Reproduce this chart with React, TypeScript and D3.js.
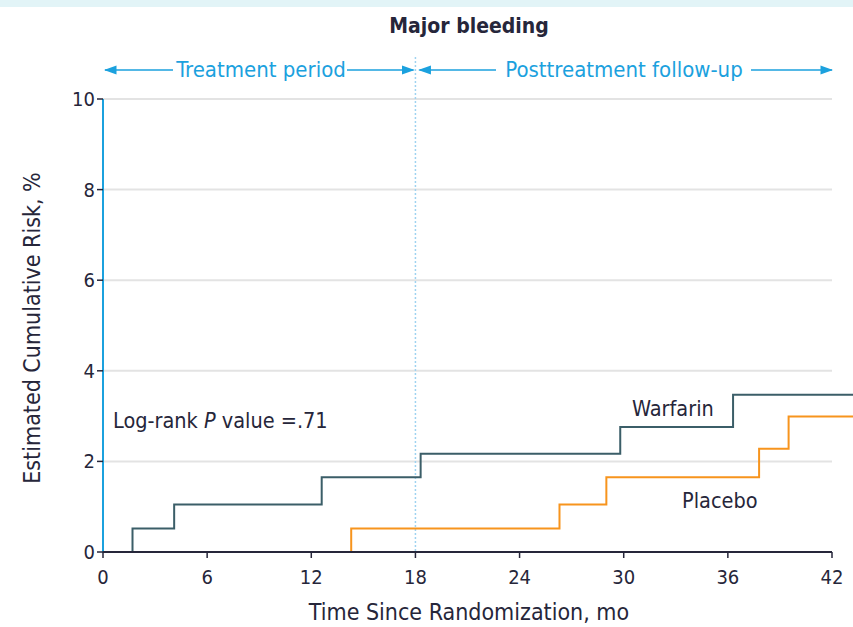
import React from "react";
import { scaleLinear, line, curveStepAfter } from "d3";

// Kaplan-Meier style step data (month, cumulative risk %)
const warfarinMonths = [0, 1.7, 4.1, 12.6, 18.3, 29.8, 36.3, 43.5];
const warfarinRisk = [0, 0.52, 1.05, 1.65, 2.17, 2.76, 3.47, 3.47];
const placeboMonths = [0, 14.3, 26.3, 29.0, 37.8, 39.5, 43.5];
const placeboRisk = [0, 0.52, 1.05, 1.65, 2.28, 2.99, 2.99];

const xTicks = [0, 6, 12, 18, 24, 30, 36, 42];
const yTicks = [0, 2, 4, 6, 8, 10];

const FONT = "'DejaVu Sans Condensed', 'Liberation Sans Narrow', sans-serif";
const BLUE = "#1ba1de";
const DARK = "#26263a";

function App() {
  const width = 853;
  const height = 627;
  const margin = { left: 103, right: 21, top: 99, bottom: 75 };

  const x = scaleLinear().domain([0, 42]).range([margin.left, width - margin.right]);
  const y = scaleLinear().domain([0, 10]).range([height - margin.bottom, margin.top]);

  const stepLine = line<[number, number]>()
    .x((d) => x(d[0]))
    .y((d) => y(d[1]))
    .curve(curveStepAfter);

  const warfarin = warfarinMonths.map((m, i) => [m, warfarinRisk[i]] as [number, number]);
  const placebo = placeboMonths.map((m, i) => [m, placeboRisk[i]] as [number, number]);

  const x0 = x(0);
  const x42 = x(42);
  const y0 = y(0);
  const xSplit = x(18);
  const arrowY = 70;

  return (
    <svg
      width={width}
      height={height}
      style={{ position: "absolute", left: 0, top: 0, background: "#fff" }}
      fontFamily={FONT}
    >
      <defs>
        <marker id="arr" viewBox="0 0 10 10" refX="9" refY="5" markerWidth="8" markerHeight="8" orient="auto-start-reverse">
          <path d="M0,1.5 L10,5 L0,8.5 Z" fill={BLUE} />
        </marker>
      </defs>
      <rect x={0} y={0} width={width} height={7} fill="#e2f4f7" />

      <text x={469} y={33} textAnchor="middle" fontSize={21} fontWeight="bold" fill={DARK}>
        Major bleeding
      </text>

      {/* period arrows */}
      <g stroke={BLUE} strokeWidth={1.6}>
        <line x1={x0 + 2} x2={173} y1={arrowY} y2={arrowY} markerStart="url(#arr)" />
        <line x1={347} x2={xSplit - 2} y1={arrowY} y2={arrowY} markerEnd="url(#arr)" />
        <line x1={xSplit + 4} x2={496} y1={arrowY} y2={arrowY} markerStart="url(#arr)" />
        <line x1={751} x2={x42} y1={arrowY} y2={arrowY} markerEnd="url(#arr)" />
      </g>
      <text x={261} y={arrowY + 7} textAnchor="middle" fontSize={22} fill={BLUE}>
        Treatment period
      </text>
      <text x={624} y={arrowY + 7} textAnchor="middle" fontSize={22} fill={BLUE}>
        Posttreatment follow-up
      </text>

      {/* gridlines */}
      {yTicks.filter((t) => t > 0).map((t) => (
        <line key={t} x1={x0} x2={x42} y1={y(t)} y2={y(t)} stroke="#e3e3e3" strokeWidth={2} />
      ))}

      {/* dotted split line */}
      <line x1={xSplit} x2={xSplit} y1={57} y2={y0} stroke="#9fd3f0" strokeWidth={1.5} strokeDasharray="2,2" />

      {/* curves */}
      <path d={stepLine(placebo) ?? ""} fill="none" stroke="#f7941d" strokeWidth={2} />
      <path d={stepLine(warfarin) ?? ""} fill="none" stroke="#3b5e68" strokeWidth={2} />

      {/* y axis */}
      <line x1={x0} x2={x0} y1={y(10)} y2={y0} stroke={BLUE} strokeWidth={2} />
      {yTicks.map((t) => (
        <g key={t}>
          <line x1={x0 - 6} x2={x0} y1={y(t)} y2={y(t)} stroke={DARK} strokeWidth={1.5} />
          <text x={x0 - 8} y={y(t) + 7} textAnchor="end" fontSize={20} fill={DARK}>
            {t}
          </text>
        </g>
      ))}

      {/* x axis */}
      <line x1={x0} x2={x42} y1={y0} y2={y0} stroke={DARK} strokeWidth={2} />
      {xTicks.map((t) => (
        <g key={t}>
          <line x1={x(t)} x2={x(t)} y1={y0} y2={y0 + 6} stroke={DARK} strokeWidth={1.5} />
          <text x={x(t)} y={y0 + 32} textAnchor="middle" fontSize={20} fill={DARK}>
            {t}
          </text>
        </g>
      ))}

      <text x={469} y={620} textAnchor="middle" fontSize={23} fill={DARK}>
        Time Since Randomization, mo
      </text>
      <text
        transform={`translate(40, ${328}) rotate(-90)`}
        textAnchor="middle"
        fontSize={23}
        fill={DARK}
      >
        Estimated Cumulative Risk, %
      </text>

      <text x={113} y={428} fontSize={21.5} fill={DARK}>
        Log-rank <tspan fontStyle="italic">P</tspan> value =.71
      </text>
      <text x={632} y={416} fontSize={21.5} fill={DARK}>
        Warfarin
      </text>
      <text x={682} y={508} fontSize={21.5} fill={DARK}>
        Placebo
      </text>
    </svg>
  );
}

export default App;
